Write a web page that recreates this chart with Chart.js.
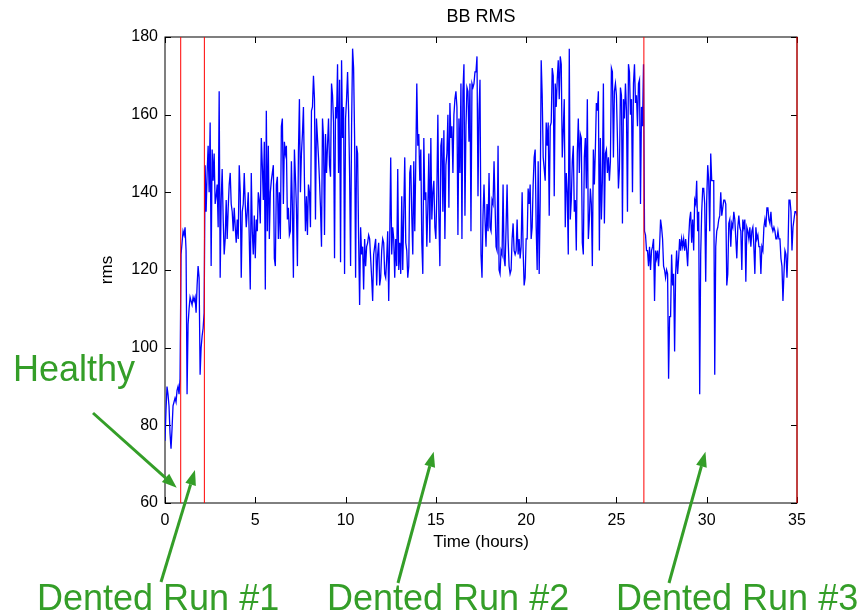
<!DOCTYPE html>
<html>
<head>
<meta charset="utf-8">
<title>BB RMS</title>
<script src="https://cdn.jsdelivr.net/npm/chart.js@4.4.0/dist/chart.umd.min.js"></script>
<style>
  html, body { margin: 0; padding: 0; background: #fff; }
  canvas { display: block; }
</style>
</head>
<body>
<canvas id="rmsChart" width="867" height="616"></canvas>
<script>
// one rms sample every 200 s
const samplesPerHour = 18;

// healthy bearing, samples 0 - 15
const healthyStart = 0;
const healthyRms = [76, 84, 90, 88, 85, 78, 74, 79, 85, 86, 87, 86, 89, 90, 88, 92];

// dented run #1, samples 16 - 39
const run1Start = 16;
const run1Rms = [
  124, 127, 130, 129, 131, 125, 88, 106, 110, 113, 112, 111,
  113, 112, 113, 109, 116, 121, 118, 93, 100, 103, 105, 109
];

// dented run #2, samples 40 - 477
const run2Start = 40;
const run2Rms = [
  147, 135, 145, 152, 140, 158, 121, 151, 143, 150,
  137, 139, 142, 131, 166, 118, 138, 146, 133, 124,
  128, 138, 128, 136, 142, 145, 137, 135, 130, 136,
  131, 127, 133, 128, 147, 140, 118, 135, 137, 145,
  137, 131, 135, 140, 128, 115, 145, 130, 124, 134,
  123, 133, 130, 140, 138, 132, 154, 147, 138, 153,
  115, 161, 130, 152, 128, 140, 143, 145, 147, 123,
  121, 142, 144, 128, 140, 128, 157, 159, 137, 153,
  150, 152, 133, 136, 129, 130, 148, 136, 118, 151,
  144, 136, 121, 150, 164, 140, 150, 155, 162, 143,
  130, 139, 129, 142, 140, 131, 161, 162, 170, 164,
  133, 159, 154, 149, 143, 136, 126, 159, 154, 129,
  155, 145, 152, 159, 147, 144, 168, 165, 158, 123,
  162, 159, 173, 145, 169, 122, 174, 154, 162, 119,
  159, 164, 171, 161, 145, 121, 157, 177, 172, 154,
  118, 152, 150, 128, 111, 131, 124, 126, 115, 128,
  121, 126, 127, 129, 128, 123, 118, 112, 124, 126,
  128, 116, 124, 127, 116, 118, 125, 128, 127, 119,
  118, 123, 130, 112, 128, 149, 124, 131, 128, 118,
  128, 121, 146, 120, 127, 119, 139, 120, 135, 149,
  127, 125, 118, 121, 145, 147, 134, 124, 148, 130,
  148, 168, 152, 155, 143, 151, 127, 119, 154, 138,
  140, 126, 136, 150, 127, 154, 133, 140, 143, 131,
  128, 140, 160, 134, 121, 152, 154, 135, 156, 128,
  147, 150, 160, 136, 163, 154, 157, 145, 160, 164,
  166, 162, 129, 159, 145, 168, 128, 166, 173, 134,
  157, 167, 166, 153, 168, 130, 168, 167, 168, 171,
  171, 175, 139, 161, 169, 124, 118, 134, 142, 133,
  126, 137, 130, 145, 131, 130, 138, 137, 148, 137,
  126, 125, 152, 120, 119, 125, 124, 142, 123, 121,
  131, 142, 128, 121, 119, 120, 128, 132, 125, 124,
  125, 133, 124, 128, 123, 126, 140, 125, 116, 118,
  128, 128, 141, 137, 142, 128, 131, 142, 149, 151,
  131, 120, 148, 119, 138, 174, 165, 149, 146, 143,
  158, 152, 158, 134, 157, 158, 172, 170, 139, 168,
  162, 169, 174, 164, 175, 173, 149, 156, 164, 131,
  145, 140, 124, 177, 133, 138, 148, 152, 135, 138,
  125, 150, 159, 145, 155, 154, 127, 124, 149, 154,
  141, 164, 128, 133, 141, 137, 121, 151, 142, 151,
  163, 161, 166, 125, 154, 133, 143, 168, 132, 150,
  151, 145, 149, 143, 148, 172, 171, 149, 166, 168,
  165, 154, 141, 146, 167, 165, 132, 164, 159, 168,
  161, 135, 173, 171, 160, 164, 140, 168, 173, 163,
  165, 157, 168, 169, 137, 162, 157, 173
];

// dented run #3, samples 478 - 630
const run3Start = 478;
const run3Rms = [
  130, 129,
  125, 125, 121, 126, 120, 125, 126, 128, 112, 125,
  123, 125, 121, 126, 133, 131, 128, 121, 120, 118,
  120, 119, 92, 108, 108, 124, 116, 119, 99, 119,
  125, 119, 123, 128, 125, 128, 126, 128, 125, 128,
  125, 121, 128, 133, 135, 127, 133, 125, 138, 137,
  143, 130, 135, 88, 124, 135, 141, 141, 137, 117,
  138, 147, 143, 130, 150, 143, 143, 143, 93, 126,
  130, 131, 133, 134, 140, 134, 136, 138, 138, 137,
  116, 119, 132, 133, 126, 132, 131, 135, 133, 128,
  123, 131, 134, 131, 130, 120, 133, 131, 133, 117,
  131, 130, 128, 131, 126, 130, 131, 126, 119, 131,
  128, 129, 126, 126, 119, 126, 125, 131, 133, 131,
  136, 136, 133, 132, 135, 131, 130, 131, 130, 128,
  128, 130, 128, 128, 123, 121, 112, 119, 125, 124,
  118, 125, 138, 138, 135, 125, 131, 133, 135, 135,
  134
];

// times where the test condition changed, hours
const runBoundaries = [0.87, 2.18, 26.52, 35];

const xTicks = [0, 5, 10, 15, 20, 25, 30, 35];
const yTicks = [60, 80, 100, 120, 140, 160, 180];

function toPoints(start, values) {
  return values.map((v, i) => ({ x: (start + i) / samplesPerHour, y: v }));
}

const rmsPoints = [
  ...toPoints(healthyStart, healthyRms),
  ...toPoints(run1Start, run1Rms),
  ...toPoints(run2Start, run2Rms),
  ...toPoints(run3Start, run3Rms)
];

const AXIS_FONT = '"Liberation Sans", Arial, Helvetica, sans-serif';
const GREEN = 'rgb(52, 158, 40)';

// callouts: text in canvas pixels, arrow tip in data units
const callouts = [
  { text: 'Healthy', textX: 13, textY: 381, from: [93, 413], tip: [0.65, 63.9] },
  { text: 'Dented Run #1', textX: 37, textY: 610, from: [161, 582], tip: [1.66, 68.5] },
  { text: 'Dented Run #2', textX: 327, textY: 610, from: [398, 583], tip: [14.88, 73.2] },
  { text: 'Dented Run #3', textX: 616, textY: 610, from: [669, 583], tip: [29.93, 73.2] }
];

function drawArrow(ctx, x0, y0, x1, y1) {
  const ang = Math.atan2(y1 - y0, x1 - x0);
  const headLen = 15, headHalf = 5.5;
  const bx = x1 - headLen * Math.cos(ang);
  const by = y1 - headLen * Math.sin(ang);
  ctx.beginPath();
  ctx.moveTo(x0, y0);
  ctx.lineTo(bx, by);
  ctx.stroke();
  ctx.beginPath();
  ctx.moveTo(x1, y1);
  ctx.lineTo(bx + headHalf * Math.sin(ang), by - headHalf * Math.cos(ang));
  ctx.lineTo(bx - headHalf * Math.sin(ang), by + headHalf * Math.cos(ang));
  ctx.closePath();
  ctx.fill();
}

// MATLAB-like axes: boxed frame, inward ticks, plain labels
const matlabAxes = {
  id: 'matlabAxes',
  beforeDatasetsDraw(chart) {
    const { ctx, chartArea: a, scales: { x, y } } = chart;
    ctx.save();
    ctx.strokeStyle = '#000';
    ctx.lineWidth = 1;
    ctx.strokeRect(a.left, a.top, a.right - a.left, a.bottom - a.top);
    ctx.beginPath();
    xTicks.forEach(t => {
      const px = Math.round(x.getPixelForValue(t)) + 0.5;
      ctx.moveTo(px, a.bottom); ctx.lineTo(px, a.bottom - 6);
      ctx.moveTo(px, a.top); ctx.lineTo(px, a.top + 6);
    });
    yTicks.forEach(t => {
      const py = Math.round(y.getPixelForValue(t)) + 0.5;
      ctx.moveTo(a.left, py); ctx.lineTo(a.left + 6, py);
      ctx.moveTo(a.right, py); ctx.lineTo(a.right - 6, py);
    });
    ctx.stroke();

    ctx.fillStyle = '#000';
    ctx.font = '16px ' + AXIS_FONT;
    ctx.textAlign = 'center';
    ctx.textBaseline = 'alphabetic';
    xTicks.forEach(t => ctx.fillText(String(t), x.getPixelForValue(t), 525));
    ctx.textAlign = 'right';
    ctx.textBaseline = 'middle';
    yTicks.forEach(t => ctx.fillText(String(t), 158, y.getPixelForValue(t)));

    ctx.font = '17px ' + AXIS_FONT;
    ctx.textAlign = 'center';
    ctx.textBaseline = 'alphabetic';
    ctx.fillText('Time (hours)', (a.left + a.right) / 2, 547);
    ctx.font = '18px ' + AXIS_FONT;
    ctx.fillText('BB RMS', (a.left + a.right) / 2, 22);

    ctx.font = '17px ' + AXIS_FONT;
    ctx.save();
    ctx.translate(112, (a.top + a.bottom) / 2);
    ctx.rotate(-Math.PI / 2);
    ctx.fillText('rms', 0, 0);
    ctx.restore();
    ctx.restore();
  },
  afterDatasetsDraw(chart) {
    const { ctx, scales: { x, y } } = chart;
    ctx.save();
    ctx.strokeStyle = GREEN;
    ctx.fillStyle = GREEN;
    ctx.lineWidth = 3;
    ctx.font = '36px ' + AXIS_FONT;
    ctx.textAlign = 'left';
    ctx.textBaseline = 'alphabetic';
    callouts.forEach(c => {
      ctx.fillText(c.text, c.textX, c.textY);
      drawArrow(ctx, c.from[0], c.from[1], x.getPixelForValue(c.tip[0]), y.getPixelForValue(c.tip[1]));
    });
    ctx.restore();
  }
};

const boundaryDatasets = runBoundaries.map(t => ({
  data: [{ x: t, y: 60 }, { x: t, y: 180 }],
  borderColor: 'rgb(255, 0, 0)',
  borderWidth: 1,
  pointRadius: 0,
  clip: false,
  order: 0
}));

new Chart(document.getElementById('rmsChart'), {
  type: 'line',
  data: {
    datasets: [
      {
        data: rmsPoints,
        borderColor: 'rgb(0, 0, 255)',
        borderWidth: 1.3,
        pointRadius: 0,
        tension: 0,
        order: 1
      },
      ...boundaryDatasets
    ]
  },
  options: {
    responsive: false,
    animation: false,
    devicePixelRatio: 1,
    layout: { padding: { top: 37, right: 70, left: 0, bottom: 0 } },
    plugins: {
      legend: { display: false },
      tooltip: { enabled: false }
    },
    scales: {
      x: {
        type: 'linear',
        min: 0,
        max: 35,
        ticks: { display: false },
        grid: { display: false, drawTicks: false },
        border: { display: false },
        afterFit: scale => { scale.height = 113; }
      },
      y: {
        min: 60,
        max: 180,
        ticks: { display: false },
        grid: { display: false, drawTicks: false },
        border: { display: false },
        afterFit: scale => { scale.width = 165; }
      }
    }
  },
  plugins: [matlabAxes]
});
</script>
</body>
</html>
